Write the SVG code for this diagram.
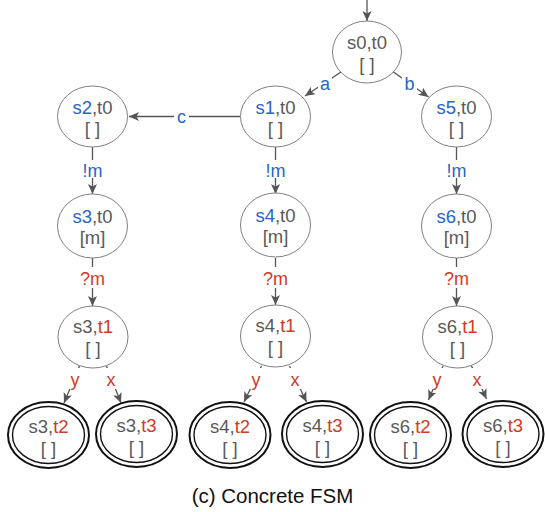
<svg xmlns="http://www.w3.org/2000/svg" width="545" height="512" viewBox="0 0 545 512">
<style>
.st{fill:#fff;stroke:#808080;stroke-width:1}
.fo{fill:#fff;stroke:#111;stroke-width:2}
.fi{fill:none;stroke:#111;stroke-width:1.4}
.t{font-family:"Liberation Sans",Arial,sans-serif;font-size:18.5px;fill:#5a5a5a;text-anchor:middle}
.l{font-family:"Liberation Sans",Arial,sans-serif;font-size:18px;text-anchor:middle}
.b{fill:#2a64c8}
.r{fill:#d13a26}
.e{fill:none;stroke:#555;stroke-width:1.3}
.bg{fill:#fff}
.cap{font-family:"Liberation Sans",Arial,sans-serif;font-size:20.5px;fill:#111;text-anchor:middle}
</style>
<defs>
<marker id="ah" markerUnits="userSpaceOnUse" markerWidth="12" markerHeight="10" refX="10" refY="4.5" orient="auto">
<path d="M0,0 L10,4.5 L0,9 L2.5,4.5 z" fill="#555"/>
</marker>
</defs>
<g id="connectors">
<line class="e" x1="367" y1="0" x2="367" y2="21" marker-end="url(#ah)"/>
<line class="e" x1="341" y1="72" x2="305" y2="96" marker-end="url(#ah)"/>
<rect class="bg" x="318" y="75" width="14" height="17"/>
<text class="l b" x="325" y="89.5">a</text>
<line class="e" x1="393.5" y1="72" x2="428.5" y2="97" marker-end="url(#ah)"/>
<rect class="bg" x="402" y="73" width="15" height="19"/>
<text class="l b" x="409.5" y="89.5">b</text>
<line class="e" x1="240" y1="116.5" x2="129" y2="116.5" marker-end="url(#ah)"/>
<rect class="bg" x="174" y="108" width="15" height="17"/>
<text class="l b" x="181.5" y="122.5">c</text>
<line class="e" x1="92.5" y1="147" x2="92.5" y2="194" marker-end="url(#ah)"/>
<rect class="bg" x="81" y="160" width="23" height="18"/>
<text class="l b" x="92.5" y="177">!m</text>
<line class="e" x1="275.5" y1="147" x2="275.5" y2="194" marker-end="url(#ah)"/>
<rect class="bg" x="264" y="160" width="23" height="18"/>
<text class="l b" x="275.5" y="177">!m</text>
<line class="e" x1="456.5" y1="147" x2="456.5" y2="194" marker-end="url(#ah)"/>
<rect class="bg" x="445" y="160" width="23" height="18"/>
<text class="l b" x="456.5" y="177">!m</text>
<line class="e" x1="92.5" y1="258" x2="92.5" y2="306" marker-end="url(#ah)"/>
<rect class="bg" x="79" y="267" width="27" height="21"/>
<text class="l r" x="92.5" y="284.5">?m</text>
<line class="e" x1="275.5" y1="258" x2="275.5" y2="305" marker-end="url(#ah)"/>
<rect class="bg" x="262" y="267" width="27" height="21"/>
<text class="l r" x="275.5" y="284.5">?m</text>
<line class="e" x1="456.5" y1="258" x2="456.5" y2="306" marker-end="url(#ah)"/>
<rect class="bg" x="443" y="267" width="27" height="21"/>
<text class="l r" x="456.5" y="284.5">?m</text>
<line class="e" x1="79.5" y1="366" x2="64" y2="403" marker-end="url(#ah)"/>
<rect class="bg" x="67" y="368" width="16" height="21"/>
<text class="l r" x="75" y="386">y</text>
<line class="e" x1="106.5" y1="366" x2="121" y2="403" marker-end="url(#ah)"/>
<rect class="bg" x="103" y="368" width="16" height="21"/>
<text class="l r" x="111" y="386">x</text>
<line class="e" x1="261.5" y1="366" x2="244" y2="402" marker-end="url(#ah)"/>
<rect class="bg" x="248" y="368" width="16" height="21"/>
<text class="l r" x="256" y="386">y</text>
<line class="e" x1="289.5" y1="366" x2="306.5" y2="402" marker-end="url(#ah)"/>
<rect class="bg" x="287" y="368" width="16" height="21"/>
<text class="l r" x="295" y="386">x</text>
<line class="e" x1="443" y1="366" x2="428.5" y2="400" marker-end="url(#ah)"/>
<rect class="bg" x="429" y="368" width="16" height="21"/>
<text class="l r" x="437" y="386">y</text>
<line class="e" x1="471.5" y1="366" x2="486.5" y2="399" marker-end="url(#ah)"/>
<rect class="bg" x="469" y="368" width="16" height="21"/>
<text class="l r" x="477" y="386">x</text>
</g>
<g id="s0t0"><ellipse class="st" cx="367" cy="52" rx="34.5" ry="31"/><text class="t" x="367" y="48.5">s0,t0</text><text class="t" x="367" y="70.5">[ ]</text></g>
<g id="s1t0"><ellipse class="st" cx="275.5" cy="116.5" rx="35" ry="30.5"/><text class="t" x="275.5" y="113.5"><tspan class="b">s1</tspan>,t0</text><text class="t" x="275.5" y="134.5">[ ]</text></g>
<g id="s2t0"><ellipse class="st" cx="92.5" cy="116.5" rx="35" ry="30.5"/><text class="t" x="92.5" y="113.5"><tspan class="b">s2</tspan>,t0</text><text class="t" x="92.5" y="134.5">[ ]</text></g>
<g id="s5t0"><ellipse class="st" cx="456.5" cy="116.5" rx="35" ry="30.5"/><text class="t" x="456.5" y="113.5"><tspan class="b">s5</tspan>,t0</text><text class="t" x="456.5" y="134.5">[ ]</text></g>
<g id="s3t0"><ellipse class="st" cx="92.5" cy="226" rx="35" ry="32"/><text class="t" x="92.5" y="222.5"><tspan class="b">s3</tspan>,t0</text><text class="t" x="92.5" y="243.5">[m]</text></g>
<g id="s4t0"><ellipse class="st" cx="275.5" cy="225" rx="35" ry="32"/><text class="t" x="275.5" y="222"><tspan class="b">s4</tspan>,t0</text><text class="t" x="275.5" y="243">[m]</text></g>
<g id="s6t0"><ellipse class="st" cx="456.5" cy="226" rx="35" ry="32"/><text class="t" x="456.5" y="222.5"><tspan class="b">s6</tspan>,t0</text><text class="t" x="456.5" y="243.5">[m]</text></g>
<g id="s3t1"><ellipse class="st" cx="93" cy="337" rx="35" ry="31"/><text class="t" x="93" y="332.5">s3,<tspan class="r">t1</tspan></text><text class="t" x="93" y="354.5">[ ]</text></g>
<g id="s4t1"><ellipse class="st" cx="275.5" cy="336" rx="35" ry="31"/><text class="t" x="275.5" y="332">s4,<tspan class="r">t1</tspan></text><text class="t" x="275.5" y="354">[ ]</text></g>
<g id="s6t1"><ellipse class="st" cx="457.5" cy="337" rx="35" ry="31"/><text class="t" x="457.5" y="332.5">s6,<tspan class="r">t1</tspan></text><text class="t" x="457.5" y="354.5">[ ]</text></g>
<g id="s3t2"><ellipse class="fo" cx="48.5" cy="435" rx="40.5" ry="33"/><ellipse class="fi" cx="48.5" cy="435" rx="36" ry="28.5"/><text class="t" x="48.5" y="433">s3,<tspan class="r">t2</tspan></text><text class="t" x="48.5" y="454.5">[ ]</text></g>
<g id="s3t3"><ellipse class="fo" cx="136.5" cy="434" rx="40.5" ry="33"/><ellipse class="fi" cx="136.5" cy="434" rx="36" ry="28.5"/><text class="t" x="136.5" y="432">s3,<tspan class="r">t3</tspan></text><text class="t" x="136.5" y="453.5">[ ]</text></g>
<g id="s4t2"><ellipse class="fo" cx="230" cy="435" rx="40.5" ry="33"/><ellipse class="fi" cx="230" cy="435" rx="36" ry="28.5"/><text class="t" x="230" y="433">s4,<tspan class="r">t2</tspan></text><text class="t" x="230" y="454.5">[ ]</text></g>
<g id="s4t3"><ellipse class="fo" cx="322.5" cy="434" rx="40.5" ry="33"/><ellipse class="fi" cx="322.5" cy="434" rx="36" ry="28.5"/><text class="t" x="322.5" y="432">s4,<tspan class="r">t3</tspan></text><text class="t" x="322.5" y="453.5">[ ]</text></g>
<g id="s6t2"><ellipse class="fo" cx="410.5" cy="435" rx="40.5" ry="33"/><ellipse class="fi" cx="410.5" cy="435" rx="36" ry="28.5"/><text class="t" x="410.5" y="433">s6,<tspan class="r">t2</tspan></text><text class="t" x="410.5" y="454.5">[ ]</text></g>
<g id="s6t3"><ellipse class="fo" cx="503" cy="434" rx="40.5" ry="33"/><ellipse class="fi" cx="503" cy="434" rx="36" ry="28.5"/><text class="t" x="503" y="432">s6,<tspan class="r">t3</tspan></text><text class="t" x="503" y="453.5">[ ]</text></g>
<g id="caption"><text class="cap" x="272.5" y="502.5">(c) Concrete FSM</text></g>
</svg>
